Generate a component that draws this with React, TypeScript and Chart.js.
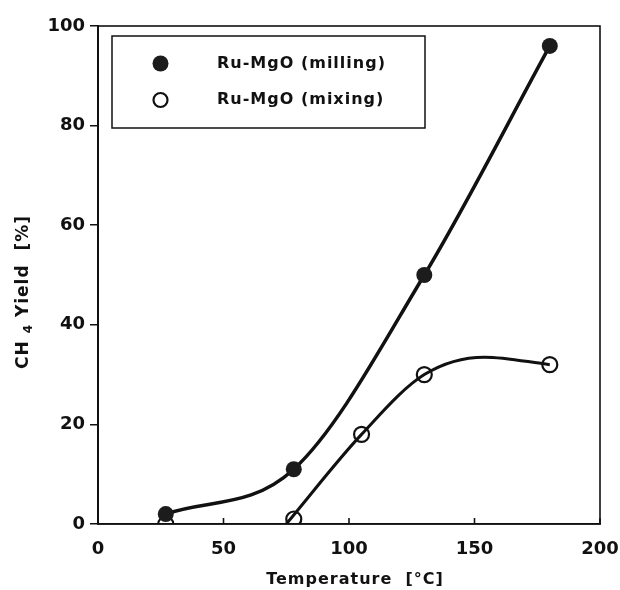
import React, { useEffect, useRef } from 'react';
import { Chart, registerables } from 'chart.js';

Chart.register(...registerables);

const millingTemps = [27, 78, 130, 180];
const millingYield = [2, 11, 50, 96];
const mixingTemps = [27, 78, 105, 130, 180];
const mixingYield = [0, 1, 18, 30, 32];
const mixingFitTemps = [75, 105, 130, 154, 180];
const mixingFitYield = [0, 18, 30, 33.5, 32];
const xTicks = [0, 50, 100, 150, 200];
const yTicks = [0, 20, 40, 60, 80, 100];
const seriesLabels = ['Ru-MgO (milling)', 'Ru-MgO (mixing)'];
const xTitle = 'Temperature  [°C]';
const yTitleParts = ['CH', '4', ' Yield  [%]'];

const FONT = '"DejaVu Sans", "Liberation Sans", Arial, sans-serif';
const INK = '#111';

const toPoints = (xs: number[], ys: number[]) => xs.map((x, i) => ({ x, y: ys[i] }));

const overlay = {
  id: 'overlay',
  afterDraw(chart: any) {
    const { ctx, chartArea: a, scales } = chart;
    ctx.save();
    ctx.strokeStyle = INK;
    ctx.lineWidth = 1.6;
    ctx.strokeRect(a.left, a.top, a.right - a.left, a.bottom - a.top);

    // inward ticks on x axis
    xTicks.forEach((v) => {
      const px = scales.x.getPixelForValue(v);
      ctx.beginPath();
      ctx.moveTo(px, a.bottom);
      ctx.lineTo(px, a.bottom - 6);
      ctx.stroke();
    });

    // legend box
    const lx = a.left + 14;
    const ly = a.top + 10;
    const lw = 313;
    const lh = 92;
    ctx.lineWidth = 1.5;
    ctx.strokeRect(lx, ly, lw, lh);
    const rows = [ly + 27.5, ly + 64];
    ctx.beginPath();
    ctx.arc(lx + 48.5, rows[0], 8, 0, Math.PI * 2);
    ctx.fillStyle = '#1c1c1c';
    ctx.fill();
    ctx.beginPath();
    ctx.arc(lx + 48.5, rows[1], 7, 0, Math.PI * 2);
    ctx.lineWidth = 2.2;
    ctx.stroke();
    ctx.fillStyle = INK;
    ctx.font = `bold 16px ${FONT}`;
    (ctx as any).letterSpacing = '1px';
    ctx.textAlign = 'left';
    ctx.textBaseline = 'middle';
    ctx.fillText(seriesLabels[0], lx + 105, rows[0]);
    ctx.fillText(seriesLabels[1], lx + 105, rows[1]);

    // x title
    ctx.font = `bold 16px ${FONT}`;
    ctx.textAlign = 'center';
    ctx.fillText(xTitle, (a.left + a.right) / 2 + 6, 580);

    // y title with subscript
    ctx.save();
    ctx.translate(24, 292);
    ctx.rotate(-Math.PI / 2);
    ctx.textAlign = 'left';
    const mainFont = `bold 17px ${FONT}`;
    const subFont = `bold 12px ${FONT}`;
    ctx.font = mainFont;
    const w0 = ctx.measureText(yTitleParts[0] + ' ').width;
    const w2 = ctx.measureText(yTitleParts[2]).width;
    ctx.font = subFont;
    const w1 = ctx.measureText(yTitleParts[1]).width;
    const total = w0 + w1 + w2;
    let cx = -total / 2;
    ctx.font = mainFont;
    ctx.fillText(yTitleParts[0] + ' ', cx, 0);
    cx += w0;
    ctx.font = subFont;
    ctx.fillText(yTitleParts[1], cx, 5);
    cx += w1;
    ctx.font = mainFont;
    ctx.fillText(yTitleParts[2], cx, 0);
    ctx.restore();

    ctx.restore();
  },
};

export default function App() {
  const ref = useRef<HTMLCanvasElement | null>(null);

  useEffect(() => {
    if (!ref.current) return;
    const chart = new Chart(ref.current, {
      type: 'scatter',
      data: {
        datasets: [
          {
            label: seriesLabels[0],
            data: toPoints(millingTemps, millingYield),
            showLine: true,
            cubicInterpolationMode: 'monotone',
            borderColor: INK,
            borderWidth: 3.5,
            pointRadius: 8,
            pointBackgroundColor: '#1c1c1c',
            pointBorderColor: '#1c1c1c',
            pointBorderWidth: 0,
          },
          {
            label: seriesLabels[1],
            data: toPoints(mixingTemps, mixingYield),
            showLine: false,
            pointRadius: 7.5,
            pointBackgroundColor: 'rgba(255,255,255,0)',
            pointBorderColor: INK,
            pointBorderWidth: 2.2,
          },
          {
            label: 'mixing fit',
            data: toPoints(mixingFitTemps, mixingFitYield),
            showLine: true,
            cubicInterpolationMode: 'monotone',
            borderColor: INK,
            borderWidth: 3,
            pointRadius: 0,
          },
        ],
      } as any,
      plugins: [overlay],
      options: {
        animation: false,
        responsive: true,
        maintainAspectRatio: false,
        layout: { padding: { left: 0, right: 20, top: 26, bottom: 0 } },
        plugins: {
          legend: { display: false },
          tooltip: { enabled: false },
          title: { display: false },
        },
        scales: {
          x: {
            type: 'linear',
            min: 0,
            max: 200,
            afterBuildTicks: (s: any) => {
              s.ticks = xTicks.map((value) => ({ value }));
            },
            afterFit: (s: any) => {
              s.height = 66;
              s.paddingLeft = 0;
              s.paddingRight = 0;
            },
            grid: { display: false, drawTicks: false },
            border: { display: true, color: INK, width: 1.6 },
            ticks: {
              color: INK,
              padding: 15,
              maxRotation: 0,
              font: { family: FONT, size: 18, weight: 'bold' },
            },
          },
          y: {
            type: 'linear',
            min: 0,
            max: 100,
            afterBuildTicks: (s: any) => {
              s.ticks = yTicks.map((value) => ({ value }));
            },
            afterFit: (s: any) => {
              s.width = 98;
              s.paddingTop = 0;
              s.paddingBottom = 0;
            },
            grid: {
              display: true,
              drawOnChartArea: false,
              drawTicks: true,
              tickLength: 8,
              color: INK,
              lineWidth: 1.5,
            },
            border: { display: true, color: INK, width: 2 },
            ticks: {
              color: INK,
              padding: 5,
              font: { family: FONT, size: 18, weight: 'bold' },
            },
          },
        },
      } as any,
    });
    return () => chart.destroy();
  }, []);

  return (
    <div style={{ position: 'absolute', left: 0, top: 0, width: 620, height: 590, background: '#fff' }}>
      <canvas ref={ref} style={{ display: 'block' }} />
    </div>
  );
}
